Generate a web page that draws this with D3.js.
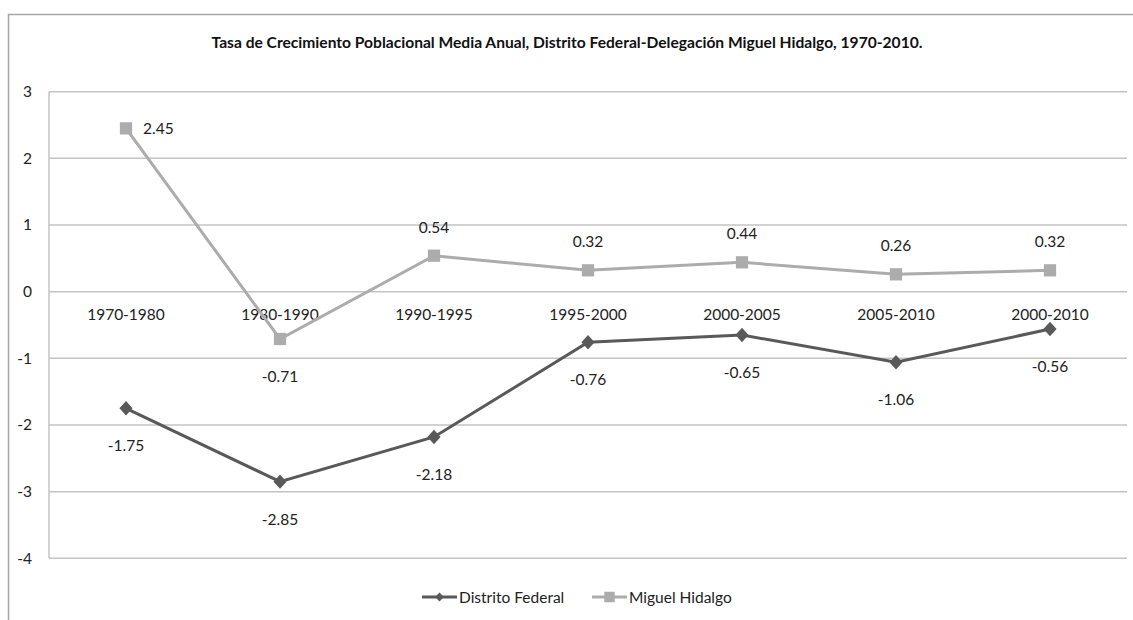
<!DOCTYPE html>
<html><head><meta charset="utf-8">
<script src="https://cdn.jsdelivr.net/npm/d3@7"></script>
<style>body{margin:0;background:#fff}svg{display:block}text{font-family:Lato,"Open Sans",sans-serif}</style>
</head><body>
<svg id="c" width="1133" height="620"></svg>
<script>
const categories = ["1970-1980","1980-1990","1990-1995","1995-2000","2000-2005","2005-2010","2000-2010"];
const distritoFederal = [-1.75,-2.85,-2.18,-0.76,-0.65,-1.06,-0.56];
const miguelHidalgo = [2.45,-0.71,0.54,0.32,0.44,0.26,0.32];
const yTicks = [3,2,1,0,-1,-2,-3,-4];
const title = "Tasa de Crecimiento Poblacional Media Anual, Distrito Federal-Delegación Miguel Hidalgo, 1970-2010.";

const FS = 15.5;
const svg = d3.select("#c");
const x = d3.scaleBand().domain(categories).range([49,1127]);
const y = d3.scaleLinear().domain([-4,3]).range([558.3,91.7]);

// outer frame
svg.append("path").attr("d","M8.5,620 V14.5 H1133").attr("fill","none").attr("stroke","#a6a6a6").attr("stroke-width",1.5);

svg.append("text").attr("x",567).attr("y",48).attr("text-anchor","middle")
  .attr("font-weight","bold").attr("font-size",15.6).attr("fill","#111").text(title);

// gridlines
svg.append("g").selectAll("line").data(yTicks).join("line")
  .attr("x1",49).attr("x2",1127).attr("y1",d=>y(d)).attr("y2",d=>y(d))
  .attr("stroke","#c3c3c3").attr("stroke-width",1.5);
svg.append("line").attr("x1",49).attr("x2",49).attr("y1",y(3)).attr("y2",y(-4)).attr("stroke","#c3c3c3").attr("stroke-width",1.5);

const hy = s => String(s).replace("\u2212","-");
// y axis labels
const yAxis = d3.axisLeft(y).tickValues(yTicks).tickSize(0).tickPadding(17).tickFormat(d=>hy(d));
const ga = svg.append("g").attr("transform","translate(49,0)").call(yAxis);
ga.select(".domain").remove();
ga.selectAll("text").attr("font-size",FS).attr("fill","#222").style("font-family","Lato,'Open Sans',sans-serif");

// x category labels (below 0 line)
const xAxis = d3.axisBottom(x).tickSize(0).tickPadding(17);
const gx = svg.append("g").attr("transform",`translate(0,${y(0)})`).call(xAxis);
gx.select(".domain").remove();
gx.selectAll("text").attr("font-size",FS).attr("fill","#222").style("font-family","Lato,'Open Sans',sans-serif");

const cx = d=>x(d)+x.bandwidth()/2;
const line = d3.line().x((d,i)=>cx(categories[i])).y(d=>y(d));

const mhColor = "#acacac", dfColor = "#595959";

svg.append("path").datum(miguelHidalgo).attr("d",line).attr("fill","none").attr("stroke",mhColor).attr("stroke-width",3);
svg.append("path").datum(distritoFederal).attr("d",line).attr("fill","none").attr("stroke",dfColor).attr("stroke-width",3);

const sq = d3.symbol().type(d3.symbolSquare).size(150);
const dm = d3.symbol().type(d3.symbolDiamond2).size(110);

svg.append("g").selectAll("path").data(miguelHidalgo).join("path")
  .attr("d",sq).attr("fill",mhColor)
  .attr("transform",(d,i)=>`translate(${cx(categories[i])},${y(d)})`);
svg.append("g").selectAll("path").data(distritoFederal).join("path")
  .attr("d",dm).attr("fill",dfColor)
  .attr("transform",(d,i)=>`translate(${cx(categories[i])},${y(d)}) scale(1,1.1)`);

const fmt = d => hy(d3.format(".2f")(d));
// labels MH
svg.append("g").selectAll("text").data(miguelHidalgo).join("text")
  .attr("font-size",FS).attr("fill","#222")
  .attr("text-anchor",(d,i)=>i===0?"start":"middle")
  .attr("x",(d,i)=>i===0?cx(categories[i])+17:cx(categories[i]))
  .attr("y",(d,i)=>i===0?y(d)+6:(d<0?y(d)+43:y(d)-23))
  .text(d=>fmt(d));
// labels DF
svg.append("g").selectAll("text").data(distritoFederal).join("text")
  .attr("font-size",FS).attr("fill","#222").attr("text-anchor","middle")
  .attr("x",(d,i)=>cx(categories[i]))
  .attr("y",d=>y(d)+43)
  .text(d=>fmt(d));

// legend
const legend = [{name:"Distrito Federal",color:dfColor,x0:422},{name:"Miguel Hidalgo",color:mhColor,x0:592}];
const lg = svg.append("g").selectAll("g").data(legend).join("g").attr("transform",d=>`translate(${d.x0},597)`);
lg.append("line").attr("x1",0).attr("x2",35).attr("stroke",d=>d.color).attr("stroke-width",3);
lg.append("path").attr("d",(d,i)=>i===0?d3.symbol().type(d3.symbolDiamond2).size(50)():d3.symbol().type(d3.symbolSquare).size(110)())
  .attr("fill",d=>d.color).attr("transform","translate(17.5,0)");
lg.append("text").attr("x",37).attr("y",5.5).attr("font-size",FS).attr("fill","#222").text(d=>d.name);
</script>
</body></html>
